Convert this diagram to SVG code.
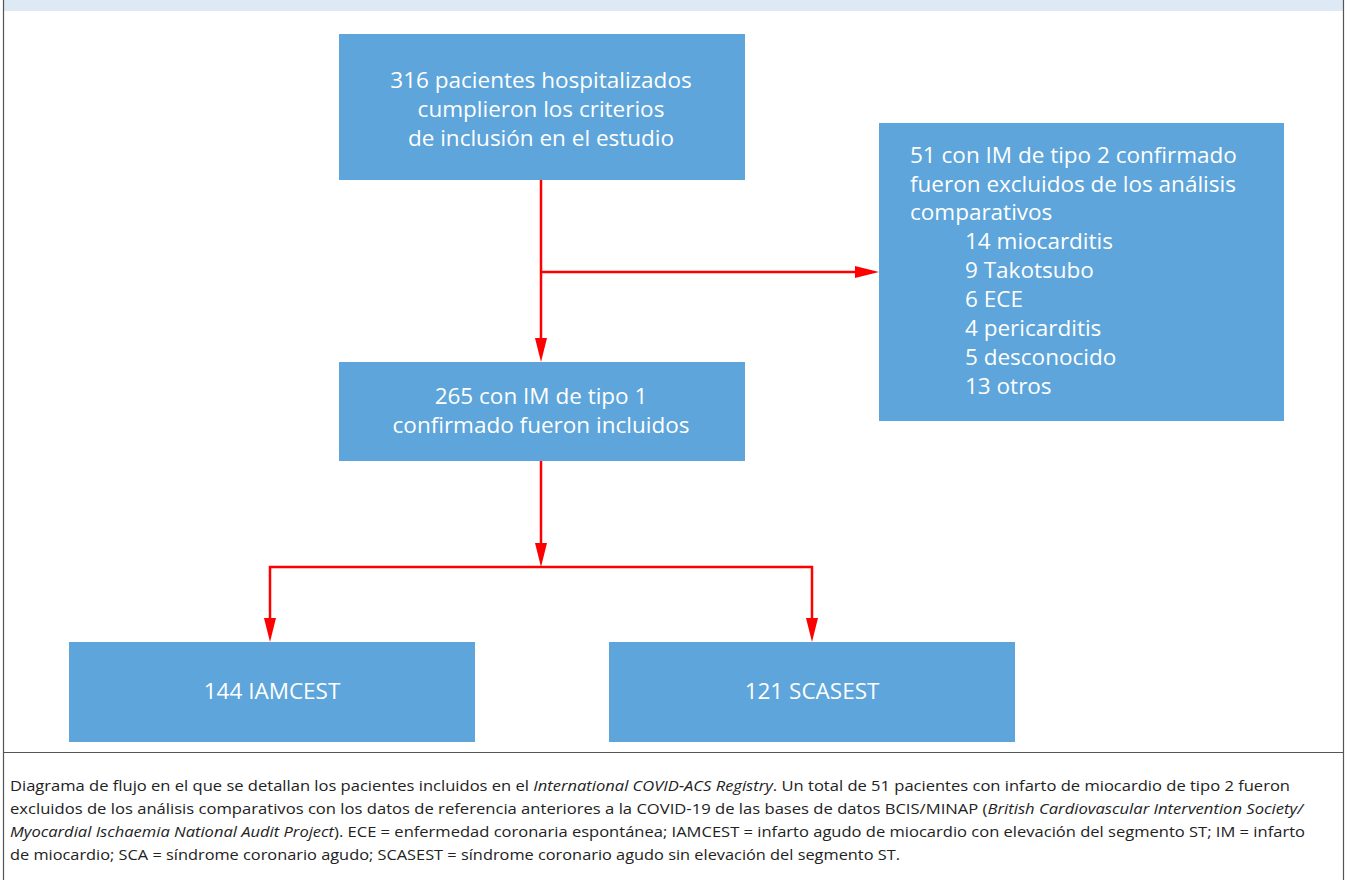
<svg xmlns="http://www.w3.org/2000/svg" width="1350" height="880" viewBox="0 0 1350 880">
<style>
.box{fill:#5da5da}
.bt{font-family:"Open Sans","Noto Sans",sans-serif;font-size:22.5px;font-weight:500;fill:#fff}
.c{text-anchor:middle}
.con{fill:none;stroke:#ff0000;stroke-width:2.5}
.ah{fill:#ff0000}
.cap{font-family:"Open Sans","Noto Sans",sans-serif;font-size:14.5px;fill:#222}
</style>
<rect x="0" y="0" width="1350" height="880" fill="#fff"/>
<rect x="3" y="0" width="1340" height="11" fill="#dde9f5"/>
<path d="M3.5,0 V880 M1343.5,0 V880 M3,752.5 H1344" stroke="#555" stroke-width="1.2" fill="none"/>
<g id="connectors">
<path class="con" d="M541,180 V340"/>
<path class="ah" d="M535,338 L547,338 L541,362 Z"/>
<path class="con" d="M541,272 H857"/>
<path class="ah" d="M855,266 L855,278 L879,272 Z"/>
<path class="con" d="M541,461 V545"/>
<path class="ah" d="M535,543 L547,543 L541,567 Z"/>
<path class="con" d="M270,620 V567 H812 V620"/>
<path class="ah" d="M264,618 L276,618 L270,642 Z M806,618 L818,618 L812,642 Z"/>
</g>
<g id="n1">
<rect class="box" x="339" y="34" width="406" height="146"/>
<text class="bt c" x="541" y="88">316 pacientes hospitalizados</text>
<text class="bt c" x="541" y="117">cumplieron los criterios</text>
<text class="bt c" x="541" y="146">de inclusión en el estudio</text>
</g>
<g id="n2">
<rect class="box" x="879" y="123" width="405" height="298"/>
<text class="bt" x="910" y="163">51 con IM de tipo 2 confirmado</text>
<text class="bt" x="910" y="192">fueron excluidos de los análisis</text>
<text class="bt" x="910" y="220">comparativos</text>
<text class="bt" x="965" y="249">14 miocarditis</text>
<text class="bt" x="965" y="278">9 Takotsubo</text>
<text class="bt" x="965" y="307">6 ECE</text>
<text class="bt" x="965" y="336">4 pericarditis</text>
<text class="bt" x="965" y="365">5 desconocido</text>
<text class="bt" x="965" y="394">13 otros</text>
</g>
<g id="n3">
<rect class="box" x="339" y="362" width="406" height="99"/>
<text class="bt c" x="541" y="404">265 con IM de tipo 1</text>
<text class="bt c" x="541" y="433">confirmado fueron incluidos</text>
</g>
<g id="n4">
<rect class="box" x="69" y="642" width="406" height="100"/>
<text class="bt c" x="272" y="699">144 IAMCEST</text>
</g>
<g id="n5">
<rect class="box" x="609" y="642" width="406" height="100"/>
<text class="bt c" x="812" y="699">121 SCASEST</text>
</g>
<g id="caption">
<text class="cap" x="10" y="791" textLength="1280" lengthAdjust="spacingAndGlyphs">Diagrama de flujo en el que se detallan los pacientes incluidos en el <tspan font-style="italic">International COVID-ACS Registry</tspan>. Un total de 51 pacientes con infarto de miocardio de tipo 2 fueron</text>
<text class="cap" x="10" y="814" textLength="1293" lengthAdjust="spacingAndGlyphs">excluidos de los análisis comparativos con los datos de referencia anteriores a la COVID-19 de las bases de datos BCIS/MINAP (<tspan font-style="italic">British Cardiovascular Intervention Society/</tspan></text>
<text class="cap" x="10" y="837" textLength="1295" lengthAdjust="spacingAndGlyphs"><tspan font-style="italic">Myocardial Ischaemia National Audit Project</tspan>). ECE = enfermedad coronaria espontánea; IAMCEST = infarto agudo de miocardio con elevación del segmento ST; IM = infarto</text>
<text class="cap" x="10" y="860" textLength="890" lengthAdjust="spacingAndGlyphs">de miocardio; SCA = síndrome coronario agudo; SCASEST = síndrome coronario agudo sin elevación del segmento ST.</text>
</g>
</svg>
